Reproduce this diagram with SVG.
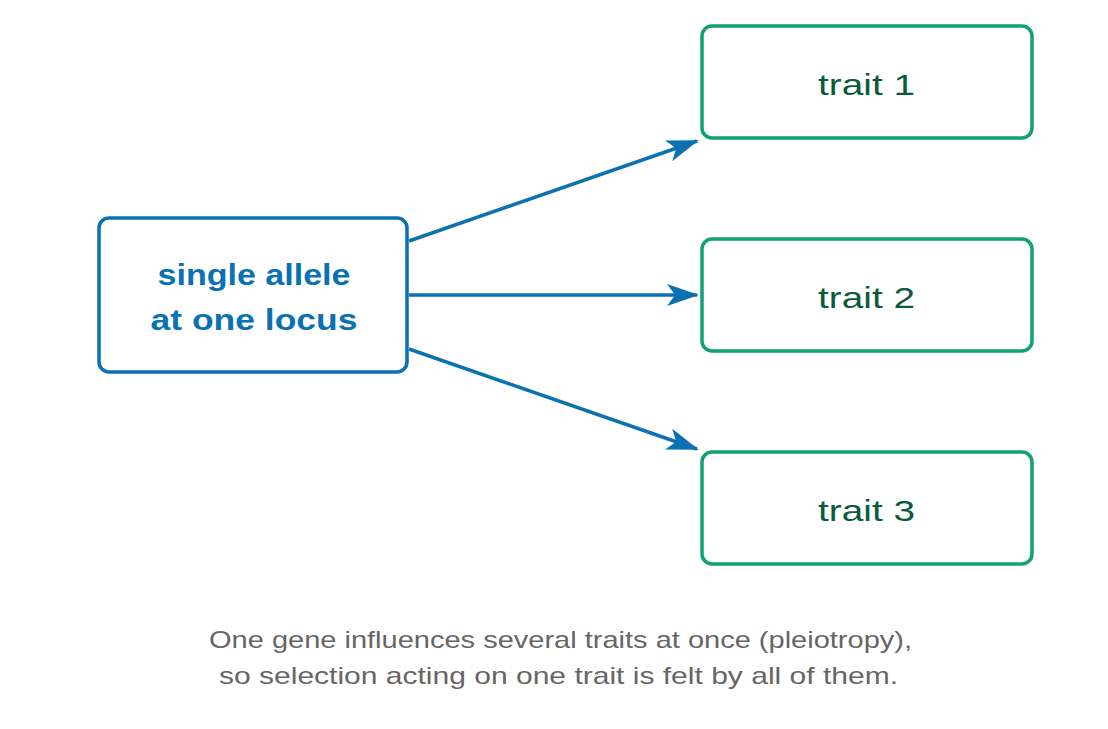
<svg xmlns="http://www.w3.org/2000/svg" width="1108" height="729" viewBox="0 0 1108 729">
<style>
.src rect{fill:#fff;stroke:#0a72b3;stroke-width:3.5}
.src text{font-family:"Liberation Sans",Arial,sans-serif;font-weight:bold;font-size:30px;fill:#0a72b3;text-anchor:middle}
.trait rect{fill:#fff;stroke:#12a077;stroke-width:3.5}
.trait text{font-family:"Liberation Sans",Arial,sans-serif;font-size:29px;fill:#0b5a3e;text-anchor:middle}
.edge{stroke:#0a72b3;stroke-width:3.5;fill:none;marker-end:url(#ah)}
.cap{font-family:"Liberation Sans",Arial,sans-serif;font-size:24px;fill:#666;text-anchor:middle}
</style>
<defs>
<marker id="ah" markerUnits="userSpaceOnUse" markerWidth="40" markerHeight="40" viewBox="-32 -20 40 40" refX="0" refY="0" orient="auto">
<path d="M2,0 L-30,-11 L-22,0 L-30,11 Z" fill="#0a72b3"/>
</marker>
</defs>
<rect width="1108" height="729" fill="#fff"/>
<g id="connectors">
<line class="edge" x1="409" y1="241" x2="697" y2="141"/>
<line class="edge" x1="409" y1="295" x2="697" y2="295"/>
<line class="edge" x1="409" y1="349" x2="697" y2="449"/>
</g>
<g id="allele" class="src">
<rect x="99" y="218" width="308" height="154" rx="10"/>
<text x="254" y="285" textLength="193" lengthAdjust="spacingAndGlyphs">single allele</text>
<text x="254" y="330" textLength="207" lengthAdjust="spacingAndGlyphs">at one locus</text>
</g>
<g id="trait1" class="trait">
<rect x="702" y="26" width="330" height="112" rx="10"/>
<text x="866.5" y="95" textLength="97" lengthAdjust="spacingAndGlyphs">trait 1</text>
</g>
<g id="trait2" class="trait">
<rect x="702" y="239" width="330" height="112" rx="10"/>
<text x="866.5" y="308" textLength="97" lengthAdjust="spacingAndGlyphs">trait 2</text>
</g>
<g id="trait3" class="trait">
<rect x="702" y="452" width="330" height="112" rx="10"/>
<text x="866.5" y="521" textLength="97" lengthAdjust="spacingAndGlyphs">trait 3</text>
</g>
<g id="caption">
<text class="cap" x="560.5" y="648" textLength="703" lengthAdjust="spacingAndGlyphs">One gene influences several traits at once (pleiotropy),</text>
<text class="cap" x="558.5" y="684" textLength="679" lengthAdjust="spacingAndGlyphs">so selection acting on one trait is felt by all of them.</text>
</g>
</svg>
